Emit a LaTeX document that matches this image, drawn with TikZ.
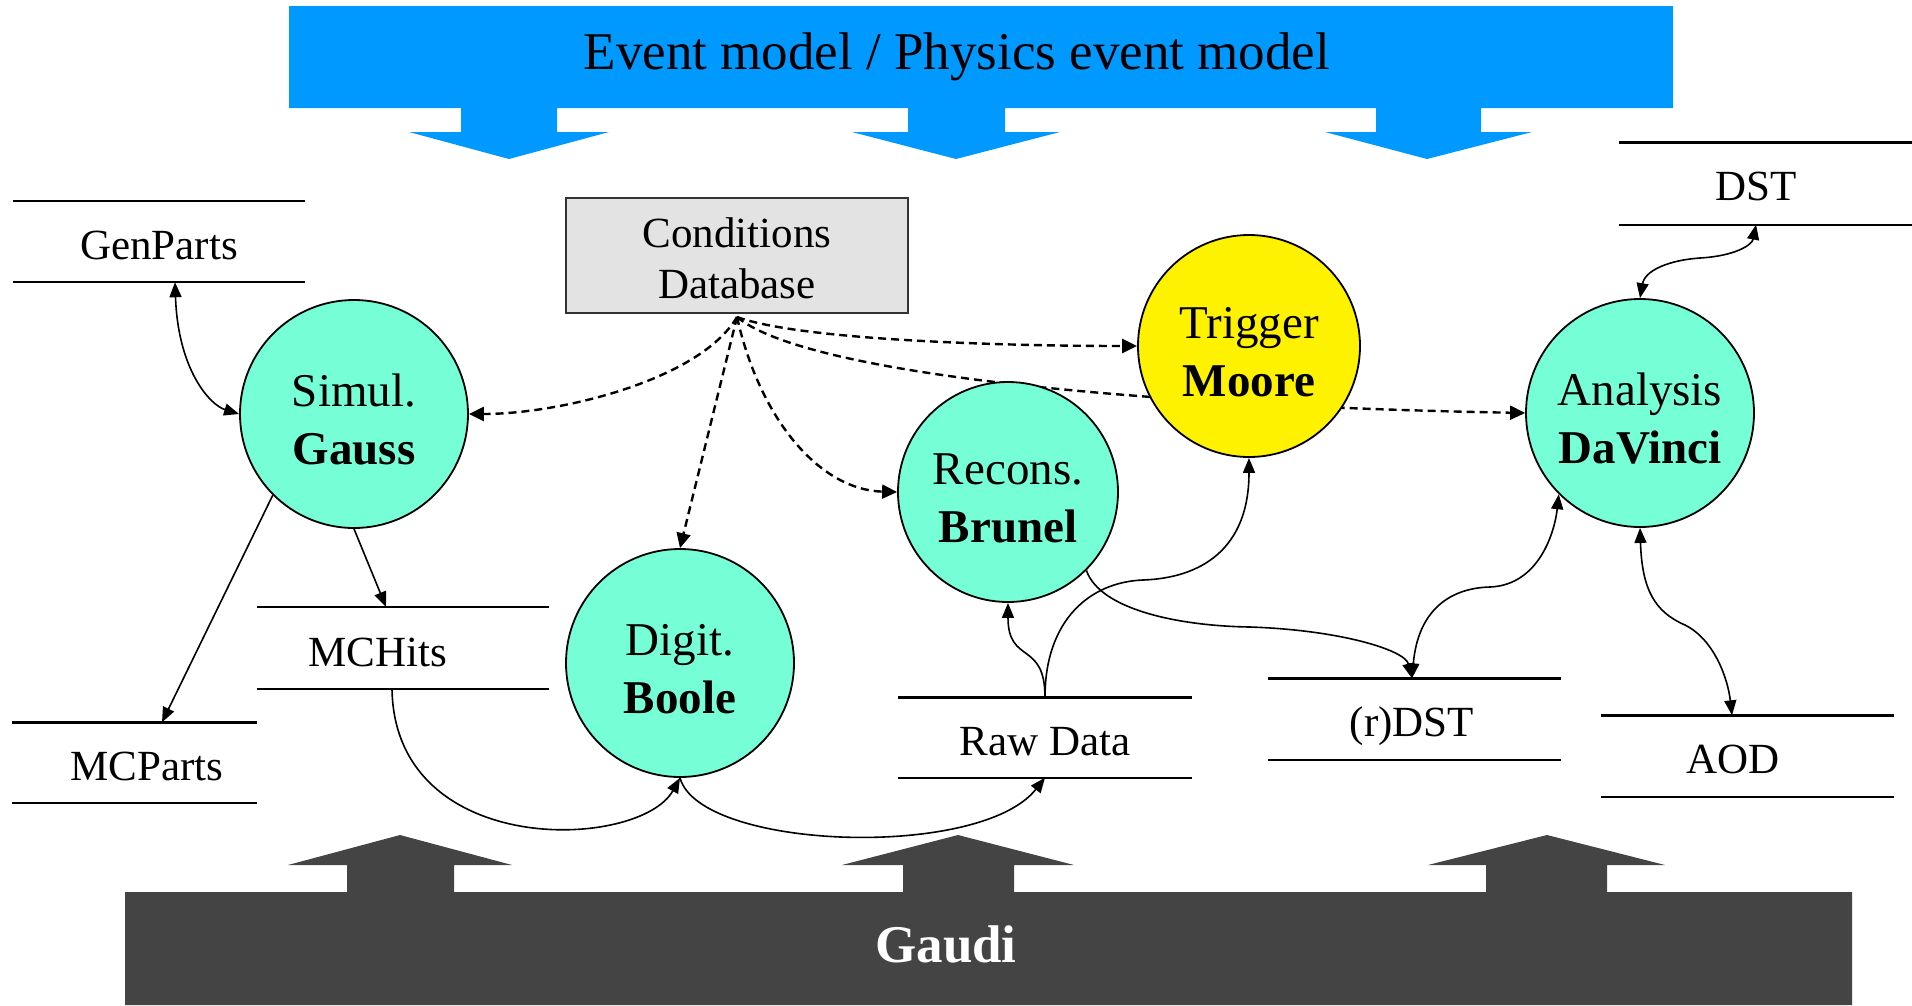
\documentclass[tikz,border=0pt]{standalone}
\usepackage{fontspec}
\setmainfont{Liberation Serif}
\usetikzlibrary{arrows.meta}
\pgfdeclarelayer{background}
\pgfsetlayers{background,main}
\definecolor{evblue}{RGB}{0,153,255}
\definecolor{gaudigray}{RGB}{68,68,68}
\definecolor{aqua}{RGB}{118,255,214}
\definecolor{cdbgray}{RGB}{227,227,227}
\tikzset{
  proc/.style={circle, draw=black, line width=1.8pt, fill=aqua, inner sep=0pt,
    align=center, text height=101.5pt, text depth=0pt, font=\fontsize{47}{58.5}\selectfont},
  storebox/.style={inner sep=0pt, minimum height=81pt},
  storeline/.style={line width=2.4pt},
  lbl/.style={anchor=base, inner sep=0pt, font=\fontsize{43}{50}\selectfont},
  flow/.style={line width=1.6pt, -{Triangle[length=15pt,width=12pt]}},
  twoway/.style={line width=1.6pt, {Triangle[length=15pt,width=12pt]}-{Triangle[length=15pt,width=12pt]}},
  cond/.style={line width=2.4pt, dash pattern=on 8pt off 5pt, -{Triangle[length=15pt,width=14pt]}},
  banner/.style={inner sep=0pt, anchor=base, font=\fontsize{53}{60}\selectfont}
}
\begin{document}
\begin{tikzpicture}[x=1pt,y=-1pt]
\useasboundingbox (0,0) rectangle (1912,1005);
% Event model banner
\fill[evblue] (289,6) -- (1673,6) -- (1673,108) -- (1481,108) -- (1481,132) -- (1532,132) -- (1427,159) -- (1325,132) -- (1376,132) -- (1376,108) -- (1005,108) -- (1005,132) -- (1060,132) -- (956,159) -- (852,132) -- (908,132) -- (908,108) -- (557,108) -- (557,132) -- (609,132) -- (509,159) -- (409,132) -- (461,132) -- (461,108) -- (289,108) -- cycle;
\node[banner] (evm) at (957,69) {Event model / Physics event model};
% Gaudi banner
\fill[gaudigray] (125,1005) -- (125,892) -- (347,892) -- (347,865) -- (288,865) -- (400,835) -- (512,865) -- (454,865) -- (454,892) -- (903,892) -- (903,865) -- (842,865) -- (958,835) -- (1074,865) -- (1014,865) -- (1014,892) -- (1486,892) -- (1486,865) -- (1428,865) -- (1547,835) -- (1665,865) -- (1607,865) -- (1607,892) -- (1852,892) -- (1852,1005) -- cycle;
\node[banner, text=white, font=\fontsize{53}{60}\selectfont\bfseries] (gaudi) at (946,962) {Gaudi};
% Conditions database
\node[draw=black!80, line width=2pt, fill=cdbgray, minimum width=342pt, minimum height=115pt, inner sep=0pt, align=center, text height=85.6pt, text depth=0pt, font=\fontsize{43}{50.6}\selectfont] (cdb) at (737,255.5) {Conditions\\Database};
\coordinate (cdbsrc) at (737,317);
% processes
\node[proc, minimum size=228pt] (gauss) at (354,414) {Simul.\\\textbf{Gauss}};
\node[proc, minimum size=228pt] (boole) at (680,663) {Digit.\\\textbf{Boole}};
\node[proc, minimum size=220pt] (brunel) at (1008,492) {Recons.\\\textbf{Brunel}};
\node[proc, minimum size=222pt, fill=yellow] (moore) at (1249,346) {Trigger\\\textbf{Moore}};
\node[proc, minimum size=228pt] (davinci) at (1640,413) {Analysis\\\textbf{DaVinci}};
% data stores
\node[storebox, minimum width=292pt] (genparts) at (159,241.5) {};
\node[storebox, minimum width=292pt, minimum height=82pt] (mchits) at (403,648) {};
\node[storebox, minimum width=244pt, minimum height=80pt] (mcparts) at (134.5,762.5) {};
\node[storebox, minimum width=293pt, minimum height=80pt] (rawdata) at (1045,737.5) {};
\node[storebox, minimum width=293pt] (rdst) at (1414.5,719) {};
\node[storebox, minimum width=293pt] (aod) at (1747.5,756) {};
\node[storebox, minimum width=293pt, minimum height=82pt] (dst) at (1765.5,183.5) {};
\foreach \s in {genparts,mchits,mcparts,rawdata,rdst,aod,dst}{
  \draw[storeline] (\s.north west) -- (\s.north east) (\s.south west) -- (\s.south east);
}
\node[lbl] (genparts-l) at (159,259) {GenParts};
\node[lbl] (mchits-l) at (378,666) {MCHits};
\node[lbl] (mcparts-l) at (147,780) {MCParts};
\node[lbl] (rawdata-l) at (1045,755) {Raw Data};
\node[lbl] (rdst-l) at (1412,736) {(r)DST};
\node[lbl] (aod-l) at (1733,773) {AOD};
\node[lbl] (dst-l) at (1756,200) {DST};
% conditions connectors
\draw[cond] (cdbsrc) .. controls (700,380) and (560,414) .. (gauss.east);
\draw[cond] (cdbsrc) -- (boole.north);
\draw[cond] (cdbsrc) .. controls (760,420) and (820,490) .. (brunel.west);
\draw[cond] (cdbsrc) .. controls (800,340) and (1000,346) .. (moore.west);
\begin{pgfonlayer}{background}
\draw[cond] (cdbsrc) .. controls (800,370) and (1100,405) .. (davinci.west);
\end{pgfonlayer}
% data flow
\draw[twoway] ([xshift=16pt]genparts.south) .. controls (178,370) and (210,405) .. (gauss.west);
\draw[flow] (gauss.south) -- ([xshift=-17pt]mchits.north);
\draw[flow] (gauss.225) -- ([xshift=27.5pt]mcparts.north);
\draw[flow] ([xshift=-11pt]mchits.south) .. controls (395,860) and (640,850) .. (boole.south);
\draw[flow] (boole.south) .. controls (700,850) and (980,860) .. (rawdata.south);
\draw[flow] (rawdata.north) .. controls (1045,640) and (1008,665) .. (brunel.south);
\draw[flow] (rawdata.north) .. controls (1045,620) and (1090,582) .. (1143,580) .. controls (1200,578) and (1249,550) .. (moore.south);
\draw[flow] (brunel.315) .. controls (1100,610) and (1180,626) .. (1250,627) .. controls (1340,630) and (1405,650) .. ([xshift=-2.5pt]rdst.north);
\draw[twoway] ([xshift=-2.5pt]rdst.north) .. controls (1418,610) and (1450,588) .. (1490,587) .. controls (1540,585) and (1555,530) .. (davinci.225);
\draw[twoway] (davinci.south) .. controls (1642,590) and (1655,612) .. (1685,625) .. controls (1715,640) and (1728,680) .. ([xshift=-15.5pt]aod.north);
\draw[twoway] (davinci.north) .. controls (1645,270) and (1670,260) .. (1700,258) .. controls (1735,256) and (1752,245) .. ([xshift=-9.5pt]dst.south);
\end{tikzpicture}
\end{document}
